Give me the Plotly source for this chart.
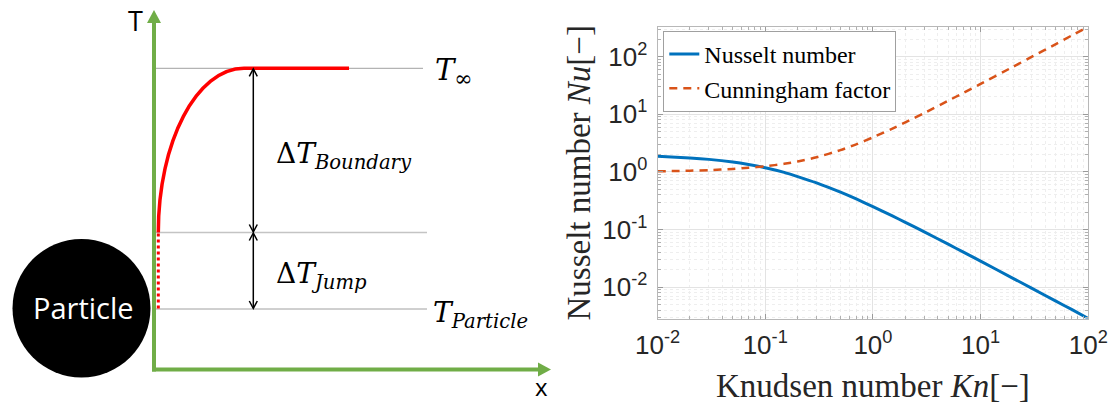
import math
import plotly.graph_objects as go

# ---------------- data ----------------
kn = [0.01, 0.02, 0.03, 0.05, 0.07, 0.1, 0.15, 0.2, 0.3, 0.5, 0.7, 1.0,
      1.5, 2.0, 3.0, 5.0, 7.0, 10.0, 20.0, 30.0, 50.0, 70.0, 100.0]
nusselt = [1.87, 1.75, 1.65, 1.48, 1.34, 1.18, 0.98, 0.83, 0.645, 0.444, 0.339, 0.25,
           0.174, 0.133, 0.091, 0.0556, 0.040, 0.0282, 0.0142, 0.0095, 0.0057, 0.0041, 0.00285]
cunningham = [1.025, 1.05, 1.075, 1.126, 1.176, 1.252, 1.38, 1.513, 1.793, 2.39, 3.01, 3.98,
              5.6, 7.24, 10.5, 17.2, 23.8, 33.7, 66.8, 100.0, 166.0, 233.0, 332.0]
series_names = ["Nusselt number", "Cunningham factor"]
x_tick_vals = [0.01, 0.1, 1, 10, 100]
x_tick_text = ["10<sup>-2</sup>", "10<sup>-1</sup>", "10<sup>0</sup>", "10<sup>1</sup>", "10<sup>2</sup>"]
y_tick_vals = [0.01, 0.1, 1, 10, 100]
y_tick_text = ["10<sup>-2</sup>", "10<sup>-1</sup>", "10<sup>0</sup>", "10<sup>1</sup>", "10<sup>2</sup>"]
minor_vals = [m * 10.0 ** e for e in range(-3, 3) for m in range(2, 10)]

W, H = 1118, 403

# ---------------- schematic geometry (pixel-like units of the left panel) ----------------
axis_x, axis_y = 154, 369.5
y_inf, y_wall, y_part = 68.3, 232.5, 309.0
x_wall, x_flat, x_flat_end = 158.3, 244.0, 349.0
x_arrow = 253.3

GREEN = "#70AD47"
RED = "#FF0000"
SERIF = "DejaVu Serif"
MSERIF = "Liberation Serif"

fig = go.Figure()

# ---------------- right panel: log-log chart ----------------
fig.add_trace(go.Scatter(x=kn, y=nusselt, name=series_names[0], mode="lines",
                         line=dict(color="#0072BD", width=3, shape="spline", smoothing=0.6),
                         xaxis="x", yaxis="y"))
fig.add_trace(go.Scatter(x=kn, y=cunningham, name=series_names[1], mode="lines",
                         line=dict(color="#D95319", width=2.5, dash="8px,6px", shape="spline", smoothing=0.6),
                         xaxis="x", yaxis="y"))

ymin = math.log10(min(nusselt))
ymax = math.log10(max(cunningham))

px0, px1 = 657.5, 1088.3
py0, py1 = 26.7, 318.5

common_axis = dict(
    type="log", showline=True, linecolor="#b8b8b8", linewidth=1, mirror="ticks",
    ticks="inside", ticklen=5, tickcolor="#9a9a9a", automargin=False,
    showgrid=True, gridcolor="#e3e3e3", gridwidth=1,
    zeroline=False, tickmode="array",
    tickfont=dict(family="Liberation Sans", size=26, color="#262626"),
    minor=dict(tickmode="array", tickvals=minor_vals, ticks="inside", ticklen=3,
               tickcolor="#b0b0b0", showgrid=True, gridcolor="#eeeeee", griddash="dot", gridwidth=1),
)

fig.update_layout(
    xaxis=dict(common_axis, domain=[px0 / W, px1 / W], range=[-2, 2], anchor="y",
               tickvals=x_tick_vals, ticktext=x_tick_text, ticklabelstandoff=3),
    yaxis=dict(common_axis, domain=[1 - py1 / H, 1 - py0 / H], range=[ymin, ymax], anchor="x",
               tickvals=y_tick_vals, ticktext=y_tick_text, ticklabelstandoff=4),
    xaxis2=dict(domain=[0, 559 / W], range=[0, 559], visible=False, anchor="y2",
                fixedrange=True, automargin=False),
    yaxis2=dict(domain=[0, 1], range=[H, 0], visible=False, anchor="x2",
                fixedrange=True, automargin=False),
    width=W, height=H, margin=dict(l=0, r=0, t=0, b=0, pad=0, autoexpand=False),
    paper_bgcolor="white", plot_bgcolor="white",
    showlegend=True,
    legend=dict(x=663.3 / W, y=1 - 31 / H, xanchor="left", yanchor="top",
                bgcolor="white", bordercolor="#a0a0a0", borderwidth=1,
                font=dict(family=MSERIF, size=24, color="black"),
                tracegroupgap=0, itemwidth=30),
)

# axis titles (right panel)
fig.add_annotation(xref="paper", yref="paper", x=(px0 + px1) / 2 / W, y=1 - 386 / H,
                   text="Knudsen number <i>Kn</i>[\u2212]", showarrow=False,
                   font=dict(family=MSERIF, size=33, color="#262626"),
                   xanchor="center", yanchor="middle")
fig.add_annotation(xref="paper", yref="paper", x=578.5 / W, y=1 - 173 / H,
                   text="Nusselt number <i>Nu</i>[\u2212]", showarrow=False, textangle=-90,
                   font=dict(family=MSERIF, size=33, color="#262626"),
                   xanchor="center", yanchor="middle")

# ---------------- left panel: schematic ----------------
def shp(**kw):
    kw.setdefault("xref", "x2")
    kw.setdefault("yref", "y2")
    fig.add_shape(**kw)

# particle
shp(type="circle", x0=12.5, x1=150.5, y0=239, y1=377.5, fillcolor="black", line=dict(color="black", width=0))

# gray reference lines
shp(type="line", x0=156, x1=423, y0=y_inf, y1=y_inf, line=dict(color="#a0a0a0", width=1))
shp(type="line", x0=156, x1=427, y0=y_wall, y1=y_wall, line=dict(color="#c4c4c4", width=1.5))
shp(type="line", x0=155, x1=427, y0=y_part, y1=y_part, line=dict(color="#a0a0a0", width=1))

# green axes
shp(type="line", x0=axis_x, x1=axis_x, y0=axis_y + 2, y1=22, line=dict(color=GREEN, width=4))
shp(type="path", path=f"M {axis_x-7},{23} L {axis_x},{10} L {axis_x+7},{23} Z",
    fillcolor=GREEN, line=dict(color=GREEN, width=0))
shp(type="line", x0=axis_x - 2, x1=540, y0=axis_y, y1=axis_y, line=dict(color=GREEN, width=4))
shp(type="path", path=f"M 538,{axis_y-7} L 551,{axis_y} L 538,{axis_y+7} Z",
    fillcolor=GREEN, line=dict(color=GREEN, width=0))

# red temperature profile (quarter-ellipse like boundary layer) + flat part
k = 0.5523
c1y = y_wall - k * (y_wall - y_inf)
c2x = x_flat - k * (x_flat - x_wall)
shp(type="path",
    path=f"M {x_wall},{y_wall} C {x_wall},{c1y} {c2x},{y_inf} {x_flat},{y_inf} L {x_flat_end},{y_inf}",
    line=dict(color=RED, width=3.5))
# temperature jump (dotted)
shp(type="line", x0=x_wall, x1=x_wall, y0=y_wall + 1, y1=y_part, line=dict(color=RED, width=3, dash="dot"))

# black double arrows
for ya, yb in [(y_inf, y_wall), (y_wall, y_part)]:
    shp(type="line", x0=x_arrow, x1=x_arrow, y0=ya + 1, y1=yb - 1, line=dict(color="black", width=1.5))
    shp(type="path", path=f"M {x_arrow-4},{ya+8} L {x_arrow},{ya+0.5} L {x_arrow+4},{ya+8}",
        line=dict(color="black", width=1.5))
    shp(type="path", path=f"M {x_arrow-4},{yb-8} L {x_arrow},{yb-0.5} L {x_arrow+4},{yb-8}",
        line=dict(color="black", width=1.5))

def ann(x, y, text, size, family=SERIF, color="black", xanchor="left", yanchor="middle"):
    fig.add_annotation(xref="x2", yref="y2", x=x, y=y, text=text, showarrow=False,
                       font=dict(family=family, size=size, color=color),
                       xanchor=xanchor, yanchor=yanchor)

ann(135, 20, "T", 27, family="Open Sans", xanchor="center")
ann(541, 386.5, "x", 24, family="Open Sans", xanchor="center")
ann(83.5, 307, "Particle", 29, family="Open Sans", color="white", xanchor="center")
ann(433, 72, "<i>T</i><sub><span style=\"font-size:22px\">\u221e</span></sub>", 29)
ann(274, 155, "\u0394<i>T</i><sub><i>Boundary</i></sub>", 28)
ann(274, 275, "\u0394<i>T</i><sub><i>Jump</i></sub>", 28)
ann(431, 314, "<i>T</i><sub><i>Particle</i></sub>", 28)

fig.write_html("out.html")
